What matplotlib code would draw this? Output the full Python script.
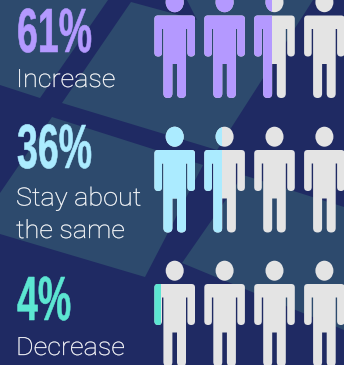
import numpy as np
import matplotlib
matplotlib.use("Agg")
from matplotlib import pyplot as plt
from matplotlib.patches import Polygon, PathPatch, Ellipse, Rectangle
from matplotlib.path import Path
from matplotlib.patheffects import AbstractPathEffect
from matplotlib.transforms import Affine2D

percents = [61, 36, 4]
labels = ["Increase", "Stay about\nthe same", "Decrease"]
colors = ["#B499FF", "#ABEBFF", "#5CE6D2"]
people_per_row = 4
empty_color = "#E4E4E4"
navy = "#1F2A63"
tile_color = "#2D4A6D"

# pixel positions of the rows
shoulder_y = [15.5, 150, 284]
person_x = [174.7, 224.6, 274.5, 324.4]
value_y = [52, 168, 320]
label_y = [87, 238, 355]

# background tiles, pixel coordinates
tiles = [
    [(0, 0), (108, 0), (40, 98), (0, 85)],
    [(131, 2), (197, 20), (187, 0), (313, 0), (217, 150), (62, 103)],
    [(52, 117), (203, 165), (145, 277), (0, 234), (0, 193)],
    [(243, 175), (344, 207), (344, 330), (182, 263)],
]


class Stretch(AbstractPathEffect):
    # scales text sideways and optionally thickens it, for faces that are not installed
    def __init__(self, sx, lw=0):
        super().__init__()
        self.sx = sx
        self.lw = lw

    def draw_path(self, renderer, gc, tpath, affine, rgbFace=None):
        gc0 = renderer.new_gc()
        gc0.copy_properties(gc)
        gc0.set_linewidth(self.lw)
        gc0.set_foreground(rgbFace)
        renderer.draw_path(gc0, tpath, Affine2D().scale(self.sx, 1) + affine, rgbFace)
        gc0.restore()


def person_body():
    # outline around (0, 0) at the middle of the shoulder line, y grows downward
    w, t, g = 20.3, 11.3, 2.3
    arm_in = 12.7
    pit, hand, crotch, foot = 13.5, 41, 48.5, 82.5
    c = 3.5
    arm_r = (w - arm_in) / 2
    leg_r = (t - g) / 2
    verts = [
        (-w + c, 0), (w - c, 0), (w, 0), (w, c),
        (w, hand - arm_r), (w, hand), (w - arm_r, hand), (arm_in, hand), (arm_in, hand - arm_r),
        (arm_in, pit), (t, pit),
        (t, foot - leg_r), (t, foot), (t - leg_r, foot), (g, foot), (g, foot - leg_r),
        (g, crotch), (-g, crotch),
        (-g, foot - leg_r), (-g, foot), (-t + leg_r, foot), (-t, foot), (-t, foot - leg_r),
        (-t, pit), (-arm_in, pit),
        (-arm_in, hand - arm_r), (-arm_in, hand), (-w + arm_r, hand), (-w, hand), (-w, hand - arm_r),
        (-w, c), (-w, 0), (-w + c, 0), (-w + c, 0),
    ]
    L, Q = Path.LINETO, Path.CURVE3
    codes = [Path.MOVETO, L, Q, Q,
             L, Q, Q, Q, Q,
             L, L,
             L, Q, Q, Q, Q,
             L, L,
             L, Q, Q, Q, Q,
             L, L,
             L, Q, Q, Q, Q,
             L, Q, Q, Path.CLOSEPOLY]
    return Path(verts, codes)


def draw_person(ax, x, y, color, clip=None):
    body = PathPatch(person_body().transformed(Affine2D().translate(x, y)), fc=color, ec="none", zorder=3)
    head = Ellipse((x, y - 13.3), 18, 20, fc=color, ec="none", zorder=3)
    for part in (body, head):
        ax.add_patch(part)
        if clip is not None:
            part.set_clip_path(clip)
            part.set_zorder(4)


fig = plt.figure(figsize=(3.44, 3.65), dpi=100, facecolor=navy)
ax = fig.add_axes([0, 0, 1, 1])
ax.set_xlim(0, 344)
ax.set_ylim(365, 0)
ax.axis("off")

for t in tiles:
    ax.add_patch(Polygon(t, closed=True, fc=tile_color, ec="none", zorder=1))

for r, pct in enumerate(percents):
    filled = pct * people_per_row / 100
    for i, x in enumerate(person_x):
        draw_person(ax, x, shoulder_y[r], empty_color)
        part = min(max(filled - i, 0), 1)
        if part > 0:
            left = x - 20.3
            clip = Rectangle((left, shoulder_y[r] - 30), 40.6 * part, 120, transform=ax.transData)
            draw_person(ax, x, shoulder_y[r], colors[r], clip)

    ax.text(17, value_y[r], f"{pct}%", color=colors[r], fontsize=45, fontweight="bold",
            family="Liberation Sans", ha="left", va="baseline",
            path_effects=[Stretch(0.6, 0.4)], zorder=5)
    ax.text(16, label_y[r], labels[r], color="white", fontsize=18, fontweight="light",
            family="Roboto", ha="left", va="baseline", linespacing=1.45,
            path_effects=[Stretch(1.08, 0.25)], zorder=5)

fig.savefig("out.png", dpi=100, facecolor=navy)
